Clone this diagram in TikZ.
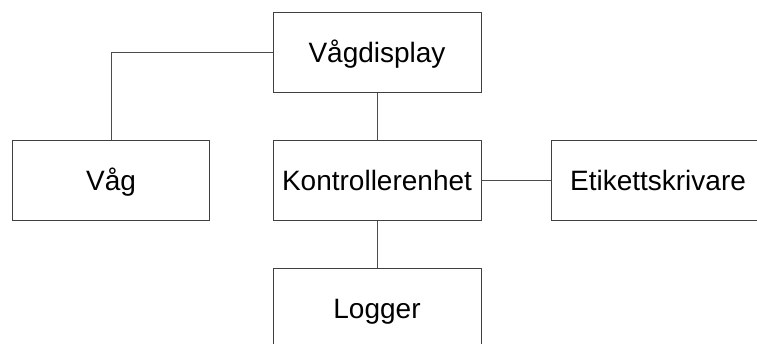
\documentclass[tikz,border=0pt]{standalone}
\usepackage{fontspec}
\setmainfont{Liberation Sans}
\begin{document}
\begin{tikzpicture}[x=1pt,y=-1pt,
  unit/.style={draw=black!75,line width=1pt,fill=white,minimum width=208pt,minimum height=80pt,
    inner sep=0pt,text height=20pt,text depth=0pt,font=\fontsize{28}{32}\selectfont},
  link/.style={draw=black!70,line width=1pt}]
  \useasboundingbox (0,0) rectangle (757,343);
  % units of the system
  \node[unit] (disp) at (377,52.5) {Vågdisplay};
  \node[unit,minimum width=197pt] (vag) at (111,180.5) {Våg};
  \node[unit] (ctrl) at (377,180.5) {Kontrollerenhet};
  \node[unit,minimum width=213pt] (label) at (658,180.5) {Etikettskrivare};
  \node[unit] (log) at (377,308) {Logger};
  % wiring between the units
  \draw[link] (disp.west) -| (vag.north);
  \draw[link] (disp.south) -- (ctrl.north);
  \draw[link] (ctrl.east) -- (label.west);
  \draw[link] (ctrl.south) -- (log.north);
\end{tikzpicture}
\end{document}
